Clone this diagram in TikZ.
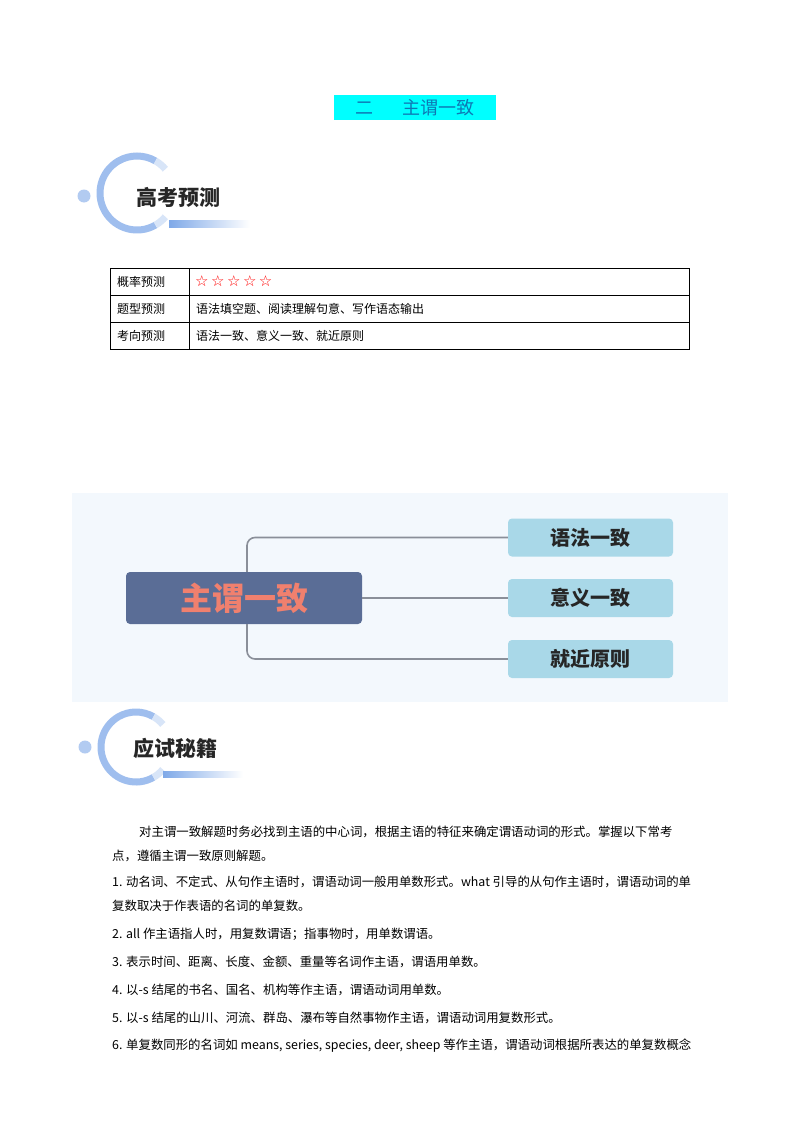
\documentclass[tikz,border=0pt]{standalone}
\usepackage{fontspec}
\setmainfont{Noto Sans CJK SC}
\usetikzlibrary{positioning}
\definecolor{titlebg}{HTML}{00FFFF}
\definecolor{titlefg}{HTML}{0E78B4}
\definecolor{mapbg}{HTML}{F3F8FD}
\definecolor{centerfill}{HTML}{5A6D96}
\definecolor{centertext}{HTML}{F0806E}
\definecolor{leaffill}{HTML}{A9D8E8}
\definecolor{linkgray}{HTML}{8A8F99}
\definecolor{badgeblue}{HTML}{7FA9E8}
\tikzset{
  leaf/.style={fill=leaffill, rounded corners=4pt, minimum width=165pt, minimum height=38pt, inner sep=0pt, font=\fontsize{20}{20}\selectfont\bfseries, text=black!85},
  link/.style={draw=linkgray, line width=1.6pt, rounded corners=8pt},
  body/.style={anchor=west, inner sep=0pt, font=\fontsize{12.4}{14}\selectfont},
  cell/.style={anchor=west, inner sep=0pt, font=\fontsize{12}{14}\selectfont},
  badgetxt/.style={font=\fontsize{21}{22}\selectfont\bfseries, text=black!85}
}
\begin{document}
\begin{tikzpicture}[x=1pt,y=-1pt]
\useasboundingbox[fill=white] (0,0) rectangle (800,1132);
% title
\fill[titlebg] (334,95) rectangle (496,120);
\node[text=titlefg, font=\fontsize{18}{18}\selectfont] (title) at (415,108) {二\hspace{30pt}主谓一致};
% badge 1
\draw[badgeblue!75, line width=7pt] (137,193) ++(60:37) arc[start angle=60, end angle=300, radius=37];
\draw[badgeblue!30, line width=7pt] (137,193) ++(-60:37) arc[start angle=-60, end angle=-40, radius=37];
\draw[badgeblue!30, line width=7pt] (137,193) ++(40:37) arc[start angle=40, end angle=60, radius=37];
\fill[badgeblue!60] (84,196) circle (6.5);
\shade[left color=badgeblue, right color=white] (169,220) rectangle (250,227);
\node[badgetxt] (b1) at (178,197) {高考预测};
% table
\draw[line width=0.8pt] (110,268) rectangle (689,349);
\draw[line width=0.8pt] (110,295) -- (689,295) (110,322) -- (689,322) (189,268) -- (189,349);
\node[cell] (c11) at (117,281.5) {概率预测};
\node[cell, text=red, font=\fontsize{15}{15}\selectfont] (c12) at (195,281.5) {\fontspec{DejaVu Sans}☆\,☆\,☆\,☆\,☆};
\node[cell] (c21) at (117,308.5) {题型预测};
\node[cell] (c22) at (196,308.5) {语法填空题、阅读理解句意、写作语态输出};
\node[cell] (c31) at (117,335.5) {考向预测};
\node[cell] (c32) at (196,335.5) {语法一致、意义一致、就近原则};
% mind map
\fill[mapbg] (72,493) rectangle (728,702);
\node[fill=centerfill, rounded corners=4pt, minimum width=236pt, minimum height=52pt, inner sep=0pt,
  text=centertext, font=\fontsize{32}{32}\selectfont\bfseries] (center) at (244,598) {主谓一致};
\node[leaf] (l1) at (590.5,537.5) {语法一致};
\node[leaf] (l2) at (590.5,598) {意义一致};
\node[leaf] (l3) at (590.5,659) {就近原则};
\draw[link] (center.north -| 247,0) -- (247,537.5) -- (l1.west);
\draw[link] (center.east) -- (l2.west);
\draw[link] (center.south -| 247,0) -- (247,659) -- (l3.west);
% badge 2
\draw[badgeblue!75, line width=7pt] (136,747) ++(60:35) arc[start angle=60, end angle=300, radius=35];
\draw[badgeblue!30, line width=7pt] (136,747) ++(-60:35) arc[start angle=-60, end angle=-40, radius=35];
\draw[badgeblue!30, line width=7pt] (136,747) ++(40:35) arc[start angle=40, end angle=60, radius=35];
\fill[badgeblue!60] (85,747) circle (6.5);
\shade[left color=badgeblue, right color=white] (163,771) rectangle (243,777);
\node[badgetxt] (b2) at (175,748) {应试秘籍};
% body
\node[body] (t1) at (139,832) {对主谓一致解题时务必找到主语的中心词，根据主语的特征来确定谓语动词的形式。掌握以下常考};
\node[body] (t2) at (112,856) {点，遵循主谓一致原则解题。};
\node[body] (t3) at (112,882) {1. 动名词、不定式、从句作主语时，谓语动词一般用单数形式。what 引导的从句作主语时，谓语动词的单};
\node[body] (t4) at (112,906) {复数取决于作表语的名词的单复数。};
\node[body] (t5) at (112,934) {2. all 作主语指人时，用复数谓语；指事物时，用单数谓语。};
\node[body] (t6) at (112,962) {3. 表示时间、距离、长度、金额、重量等名词作主语，谓语用单数。};
\node[body] (t7) at (112,990) {4. 以-s 结尾的书名、国名、机构等作主语，谓语动词用单数。};
\node[body] (t8) at (112,1018) {5. 以-s 结尾的山川、河流、群岛、瀑布等自然事物作主语，谓语动词用复数形式。};
\node[body] (t9) at (112,1046) {6. 单复数同形的名词如 means, series, species, deer, sheep 等作主语，谓语动词根据所表达的单复数概念};
\end{tikzpicture}
\end{document}
